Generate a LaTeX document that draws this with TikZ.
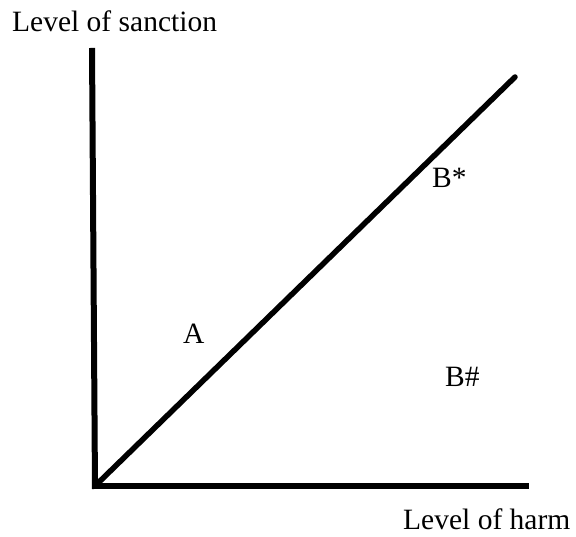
\documentclass[tikz,border=0pt]{standalone}
\usepackage{fontspec}
\setmainfont{Liberation Serif}
\usetikzlibrary{positioning}

\begin{document}
\begin{tikzpicture}[
  x=1pt,y=1pt,
  every node/.style={font=\fontsize{29.5}{34}\selectfont,inner sep=0pt,anchor=base west},
  axis/.style={line width=6pt,draw=black},
  bound/.style={line width=5.5pt,draw=black,line cap=round}
]
  \useasboundingbox (0,0) rectangle (576,537);

  % Ejes del diagrama.
  \coordinate (ytop) at (92,489);
  \coordinate (ybot) at (95,48);
  \coordinate (origin) at (92,51);
  \coordinate (xend) at (529,51);
  \draw[axis] (ytop) -- (ybot);
  \draw[axis] (origin) -- (xend);

  % Recta sancion = dano.
  \coordinate (dstart) at (96,52);
  \coordinate (dend) at (515,460);
  \draw[bound] (dstart) -- (dend);

  % Etiquetas de los ejes y de los puntos.
  \node (ylabel) at (12,505) {Level of sanction};
  \node (xlabel) at (403,7) {Level of harm};
  \node (ptA) at (183,193) {A};
  \node (ptBstar) at (432,349) {B*};
  \node (ptBhash) at (445,150) {B\#};
\end{tikzpicture}
\end{document}
